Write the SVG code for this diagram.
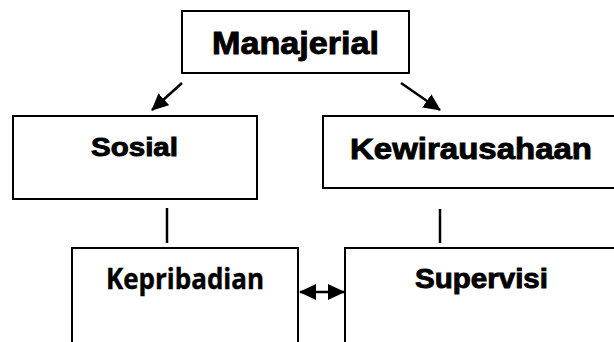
<svg xmlns="http://www.w3.org/2000/svg" width="614" height="342" viewBox="0 0 614 342">
  <style>
    .box { fill: #ffffff; stroke: #000000; stroke-width: 2; }
    .t1 { font-family: "Liberation Sans", Arial, sans-serif; font-weight: bold; fill: #000000; stroke: #000000; stroke-width: 0.9; }
    .t2 { font-family: "Open Sans", "Noto Sans", sans-serif; font-weight: bold; fill: #000000; stroke: #000000; stroke-width: 0.4; }
    .conn { stroke: #000000; stroke-width: 2.5; fill: none; }
  </style>
  <defs>
    <marker id="arr" markerUnits="userSpaceOnUse" viewBox="0 0 17 16" markerWidth="17" markerHeight="16" refX="16" refY="8" orient="auto-start-reverse">
      <path d="M0,0 L17,8 L0,16 z" fill="#000000"/>
    </marker>
  </defs>
  <rect x="0" y="0" width="614" height="342" fill="#ffffff"/>
  <g id="node-manajerial">
    <rect class="box" x="182" y="11" width="227" height="62"/>
    <text class="t1" x="212" y="54" font-size="31" textLength="167" lengthAdjust="spacingAndGlyphs">Manajerial</text>
  </g>
  <g id="node-sosial">
    <rect class="box" x="13" y="116" width="244" height="83"/>
    <text class="t1" x="91" y="156" font-size="26" textLength="87" lengthAdjust="spacingAndGlyphs">Sosial</text>
  </g>
  <g id="node-kewirausahaan">
    <rect class="box" x="323" y="116" width="300" height="72"/>
    <text class="t1" x="350" y="159" font-size="29" textLength="242" lengthAdjust="spacingAndGlyphs">Kewirausahaan</text>
  </g>
  <g id="node-kepribadian">
    <rect class="box" x="72" y="248" width="226" height="120"/>
    <text class="t2" x="106" y="289" font-size="28" textLength="158" lengthAdjust="spacingAndGlyphs">Kepribadian</text>
  </g>
  <g id="node-supervisi">
    <rect class="box" x="345" y="248" width="280" height="120"/>
    <text class="t1" x="415" y="288" font-size="28" textLength="133" lengthAdjust="spacingAndGlyphs">Supervisi</text>
  </g>
  <g id="connectors">
    <line class="conn" x1="182" y1="83" x2="152" y2="110" marker-end="url(#arr)"/>
    <line class="conn" x1="401" y1="83" x2="440" y2="110" marker-end="url(#arr)"/>
    <line class="conn" x1="167" y1="208" x2="167" y2="243" stroke-width="1.5"/>
    <line class="conn" x1="440" y1="209" x2="440" y2="243" stroke-width="1.5"/>
    <line class="conn" x1="300" y1="292" x2="344" y2="292" stroke-width="3" marker-start="url(#arr)" marker-end="url(#arr)"/>
  </g>
</svg>
